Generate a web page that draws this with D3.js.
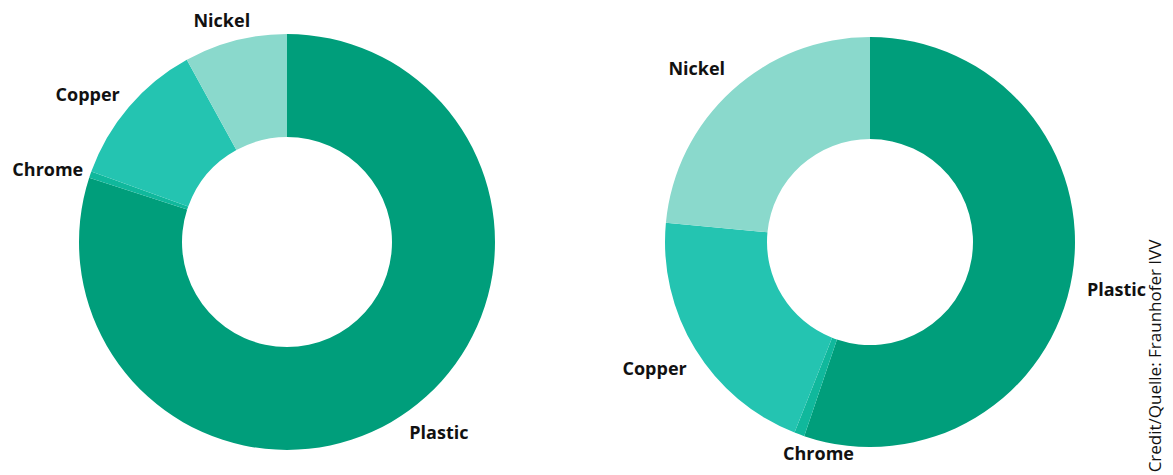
<!DOCTYPE html>
<html>
<head>
<meta charset="utf-8">
<script src="https://cdn.jsdelivr.net/npm/d3@7"></script>
<style>
  body { margin: 0; background: #fff; }
  svg { display: block; }
  text { font-family: 'Open Sans', 'Noto Sans', sans-serif; }
</style>
</head>
<body>
<div id="chart"></div>
<script>
// data (shares in %)
const materials = ['Plastic', 'Chrome', 'Copper', 'Nickel'];
const leftValues = [80.0, 0.5, 11.5, 8.0];
const rightValues = [55.2, 0.8, 20.5, 23.5];
const credit = 'Credit/Quelle: Fraunhofer IVV';

const width = 1173;
const height = 475;

const color = d3.scaleOrdinal()
  .domain(materials)
  .range(['#009e7b', '#10b89c', '#24c4b1', '#8ad9cc']);

const svg = d3.select('#chart')
  .append('svg')
  .attr('width', width)
  .attr('height', height);

const pie = d3.pie()
  .value((d) => d.value)
  .sort(null);

// label placement: [angle nudge in degrees, radius]
function drawDonut(values, cx, cy, outer, inner, labelPos) {
  const data = materials.map((name, i) => ({ name, value: values[i] }));
  const arc = d3.arc().innerRadius(inner).outerRadius(outer);
  const g = svg.append('g')
    .attr('transform', `translate(${cx},${cy})`);

  g.selectAll('path')
    .data(pie(data))
    .enter()
    .append('path')
    .attr('d', arc)
    .attr('fill', (d) => color(d.data.name));

  g.selectAll('text')
    .data(pie(data))
    .enter()
    .append('text')
    .attr('transform', (d) => {
      const p = labelPos[d.data.name];
      const a = (d.startAngle + d.endAngle) / 2 + (p[0] * Math.PI) / 180;
      return `translate(${Math.sin(a) * p[1]},${-Math.cos(a) * p[1]})`;
    })
    .attr('text-anchor', 'middle')
    .attr('dy', '0.35em')
    .attr('font-size', 18)
    .attr('font-weight', 700)
    .attr('fill', '#111')
    .text((d) => d.data.name);
}

drawDonut(leftValues, 287, 242, 208, 105, {
  Plastic: [-2.5, 244], Chrome: [-2, 250], Copper: [-4, 248], Nickel: [-2, 231],
});
drawDonut(rightValues, 870, 242, 205, 103, {
  Plastic: [1.5, 251], Chrome: [-6.5, 218], Copper: [1, 250], Nickel: [-2.7, 245],
});

svg.append('text')
  .attr('transform', 'translate(1161,356) rotate(-90)')
  .attr('text-anchor', 'middle')
  .attr('font-size', 17)
  .attr('fill', '#111')
  .text(credit);
</script>
</body>
</html>
